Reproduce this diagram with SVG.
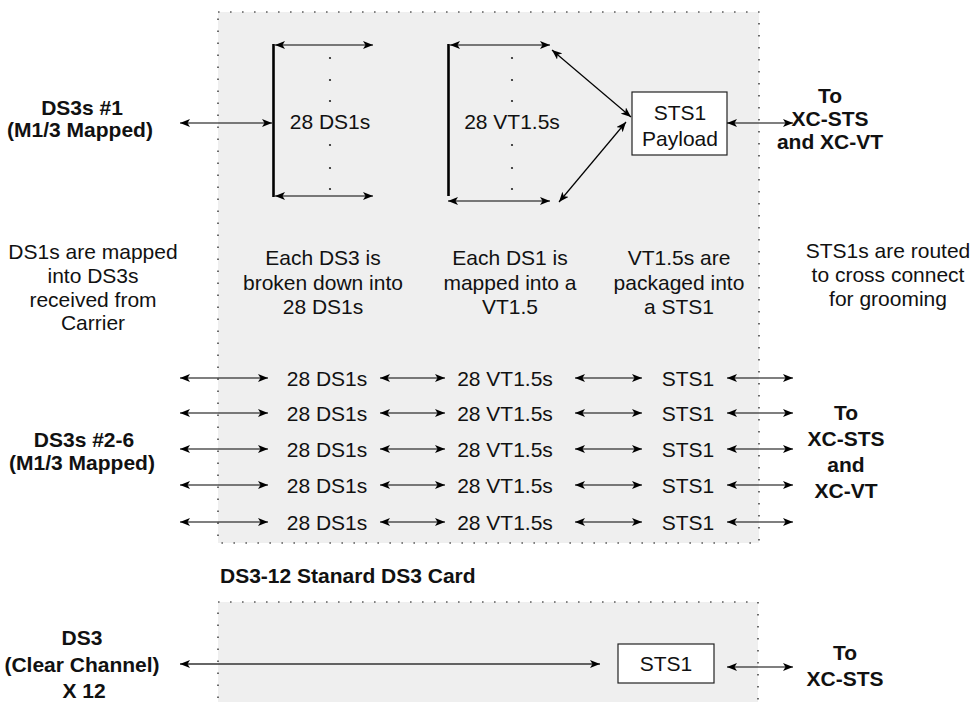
<svg xmlns="http://www.w3.org/2000/svg" width="974" height="702" viewBox="0 0 974 702">
<defs>
<marker id="ah" viewBox="0 0 10 8" refX="10" refY="4" markerWidth="10" markerHeight="8" markerUnits="userSpaceOnUse" orient="auto-start-reverse">
<path d="M0,0 L10,4 L0,8 L2.5,4 z" fill="#000"/>
</marker>
</defs>
<style>
.card{fill:#efefef;stroke:#111;stroke-width:1.2;stroke-dasharray:1.6 10.4}
.t{font-family:"Liberation Sans",Arial,sans-serif;font-size:21px;fill:#111;text-anchor:middle}
.b{font-family:"Liberation Sans",Arial,sans-serif;font-size:21px;font-weight:bold;fill:#111;text-anchor:middle}
.a{stroke:#000;stroke-width:1.2;fill:none;marker-start:url(#ah);marker-end:url(#ah)}
.bar{stroke:#000;stroke-width:2.6;fill:none}
.box{fill:#fff;stroke:#222;stroke-width:1.2}
.dot{fill:#222}
</style>
<rect width="974" height="702" fill="#fff"/>

<g id="card-m13">
<rect class="card" x="218" y="12" width="541" height="531"/>
</g>
<g id="card-ds3-12">
<rect class="card" x="218" y="602" width="540" height="120"/>
<text class="b" x="220" y="583" style="text-anchor:start">DS3-12 Stanard DS3 Card</text>
</g>

<g id="ds3s-1">
<text class="b" x="82" y="115">DS3s #1</text>
<text class="b" x="80" y="137">(M1/3 Mapped)</text>
</g>
<g id="ds1-bracket">
<line class="bar" x1="273.5" y1="44" x2="273.5" y2="197"/>
<text class="t" x="330" y="129">28 DS1s</text>
<circle class="dot" cx="330" cy="58" r="1.1"/>
<circle class="dot" cx="330" cy="80" r="1.1"/>
<circle class="dot" cx="330" cy="101" r="1.1"/>
<circle class="dot" cx="330" cy="145" r="1.1"/>
<circle class="dot" cx="330" cy="168" r="1.1"/>
<circle class="dot" cx="330" cy="189" r="1.1"/>
</g>
<g id="vt-bracket">
<line class="bar" x1="448.5" y1="44" x2="448.5" y2="196"/>
<text class="t" x="512" y="129">28 VT1.5s</text>
<circle class="dot" cx="512" cy="58" r="1.1"/>
<circle class="dot" cx="512" cy="80" r="1.1"/>
<circle class="dot" cx="512" cy="101" r="1.1"/>
<circle class="dot" cx="512" cy="145" r="1.1"/>
<circle class="dot" cx="512" cy="168" r="1.1"/>
<circle class="dot" cx="512" cy="189" r="1.1"/>
</g>
<g id="sts1-payload">
<rect class="box" x="632" y="92" width="95" height="63"/>
<text class="t" x="680" y="120">STS1</text>
<text class="t" x="680" y="146">Payload</text>
</g>
<g id="to-xc-top">
<text class="b" x="830" y="103">To</text>
<text class="b" x="830" y="126">XC-STS</text>
<text class="b" x="830" y="149">and XC-VT</text>
</g>

<g id="notes">
<text class="t" x="93" y="259">DS1s are mapped</text>
<text class="t" x="93" y="283">into DS3s</text>
<text class="t" x="93" y="307">received from</text>
<text class="t" x="93" y="330">Carrier</text>
<text class="t" x="323" y="265">Each DS3 is</text>
<text class="t" x="323" y="290">broken down into</text>
<text class="t" x="323" y="314">28 DS1s</text>
<text class="t" x="510" y="265">Each DS1 is</text>
<text class="t" x="510" y="290">mapped into a</text>
<text class="t" x="510" y="314">VT1.5</text>
<text class="t" x="679" y="265">VT1.5s are</text>
<text class="t" x="679" y="290">packaged into</text>
<text class="t" x="679" y="314">a STS1</text>
<text class="t" x="888" y="258">STS1s are routed</text>
<text class="t" x="888" y="282">to cross connect</text>
<text class="t" x="888" y="306">for grooming</text>
</g>

<g id="ds3s-2-6">
<text class="b" x="84" y="447">DS3s #2-6</text>
<text class="b" x="82" y="470">(M1/3 Mapped)</text>
</g>
<g id="rows">
<text class="t" x="327" y="386">28 DS1s</text>
<text class="t" x="505" y="386">28 VT1.5s</text>
<text class="t" x="688" y="386">STS1</text>
<text class="t" x="327" y="421">28 DS1s</text>
<text class="t" x="505" y="421">28 VT1.5s</text>
<text class="t" x="688" y="421">STS1</text>
<text class="t" x="327" y="457">28 DS1s</text>
<text class="t" x="505" y="457">28 VT1.5s</text>
<text class="t" x="688" y="457">STS1</text>
<text class="t" x="327" y="493">28 DS1s</text>
<text class="t" x="505" y="493">28 VT1.5s</text>
<text class="t" x="688" y="493">STS1</text>
<text class="t" x="327" y="530">28 DS1s</text>
<text class="t" x="505" y="530">28 VT1.5s</text>
<text class="t" x="688" y="530">STS1</text>
</g>
<g id="to-xc-mid">
<text class="b" x="846" y="420">To</text>
<text class="b" x="846" y="446">XC-STS</text>
<text class="b" x="846" y="472">and</text>
<text class="b" x="846" y="498">XC-VT</text>
</g>

<g id="ds3-clear">
<text class="b" x="82" y="645">DS3</text>
<text class="b" x="82" y="672">(Clear Channel)</text>
<text class="b" x="84" y="698">X 12</text>
</g>
<g id="sts1-lower">
<rect class="box" x="618" y="644" width="96" height="39"/>
<text class="t" x="666" y="671">STS1</text>
</g>
<g id="to-xc-low">
<text class="b" x="845" y="660">To</text>
<text class="b" x="845" y="686">XC-STS</text>
</g>

<g id="connectors">
<line class="a" x1="180" y1="123" x2="272" y2="123"/>
<line class="a" x1="275" y1="45" x2="373" y2="45"/>
<line class="a" x1="275" y1="196" x2="373" y2="196"/>
<line class="a" x1="450" y1="45" x2="550" y2="45"/>
<line class="a" x1="448" y1="201" x2="550" y2="201"/>
<line class="a" x1="552" y1="50" x2="631" y2="117"/>
<line class="a" x1="626" y1="122" x2="559" y2="202"/>
<line class="a" x1="727" y1="123" x2="793" y2="123"/>

<line class="a" x1="180" y1="378" x2="268" y2="378"/>
<line class="a" x1="380" y1="378" x2="445" y2="378"/>
<line class="a" x1="575" y1="378" x2="642" y2="378"/>
<line class="a" x1="727" y1="378" x2="793" y2="378"/>
<line class="a" x1="180" y1="413" x2="268" y2="413"/>
<line class="a" x1="380" y1="413" x2="445" y2="413"/>
<line class="a" x1="575" y1="413" x2="642" y2="413"/>
<line class="a" x1="727" y1="413" x2="793" y2="413"/>
<line class="a" x1="180" y1="449" x2="268" y2="449"/>
<line class="a" x1="380" y1="449" x2="445" y2="449"/>
<line class="a" x1="575" y1="449" x2="642" y2="449"/>
<line class="a" x1="727" y1="449" x2="793" y2="449"/>
<line class="a" x1="180" y1="485" x2="268" y2="485"/>
<line class="a" x1="380" y1="485" x2="445" y2="485"/>
<line class="a" x1="575" y1="485" x2="642" y2="485"/>
<line class="a" x1="727" y1="485" x2="793" y2="485"/>
<line class="a" x1="180" y1="522" x2="268" y2="522"/>
<line class="a" x1="380" y1="522" x2="445" y2="522"/>
<line class="a" x1="575" y1="522" x2="642" y2="522"/>
<line class="a" x1="727" y1="522" x2="793" y2="522"/>

<line class="a" x1="180" y1="664" x2="600" y2="664" style="stroke:#333;stroke-width:1.5"/>
<line class="a" x1="727" y1="667" x2="793" y2="667"/>
</g>
</svg>
